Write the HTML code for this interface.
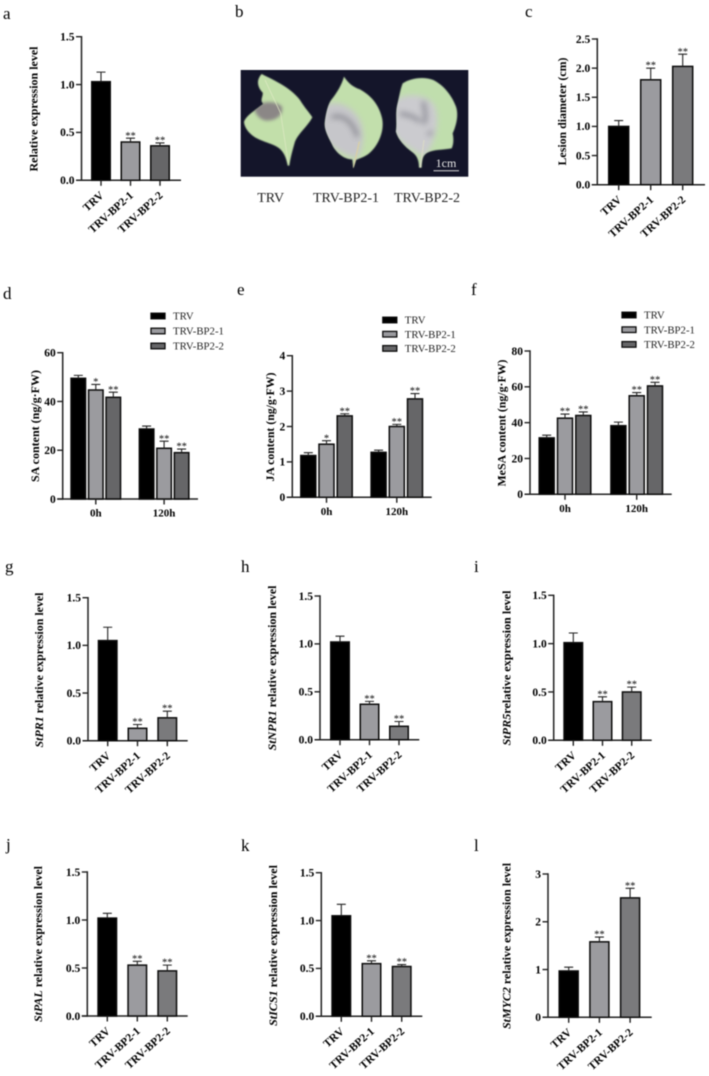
<!DOCTYPE html>
<html lang="en">
<head>
<meta charset="utf-8">
<title>Panels a–l</title>
<style>
html,body{margin:0;padding:0;background:#fff;}
svg{display:block;filter:blur(0.4px);}
text{font-family:"Liberation Serif",serif;fill:#000;}
.b{font-weight:bold;}
.letter{font-size:17px;}
.cap{font-size:14px;fill:#222;}
.leg{font-size:10.8px;fill:#222;}
</style>
</head>
<body>
<svg id="fig" xmlns="http://www.w3.org/2000/svg" width="709" height="1076" viewBox="0 0 709 1076">
  <defs>
    <filter id="soft" filterUnits="userSpaceOnUse" x="0" y="150" width="800" height="420"><feGaussianBlur stdDeviation="9"/></filter>
    <filter id="softer" filterUnits="userSpaceOnUse" x="0" y="150" width="800" height="420"><feGaussianBlur stdDeviation="5"/></filter>
    <filter id="edge" filterUnits="userSpaceOnUse" x="0" y="150" width="800" height="420"><feGaussianBlur stdDeviation="1.5"/></filter>
    <clipPath id="clip-leaf1"><path d="M125 222C150 235 210 260 240 300C255 325 270 340 277 352C262 380 235 400 225 425C218 450 212 470 208 497L203 497C198 470 190 455 178 445C150 425 110 425 85 395C75 382 72 372 72 365C80 345 100 335 130 312C118 300 130 290 128 278C112 262 108 240 125 222Z"/></clipPath>
    <clipPath id="clip-leaf2"><path d="M372 230C385 250 400 262 420 268C450 285 475 310 485 350C495 385 480 430 450 458C435 472 415 476 408 480L400 505L397 478C370 478 345 455 335 430C322 405 312 385 315 365C318 340 325 310 335 298C350 280 365 255 372 230Z"/></clipPath>
    <clipPath id="clip-leaf3"><path d="M548 250C570 235 610 228 640 240C670 255 695 285 708 320C718 350 705 385 698 400C702 420 700 435 695 445C670 450 640 448 622 458C610 465 606 475 605 503L597 503C597 480 590 465 575 455C555 440 535 420 528 395C532 370 526 340 532 315C538 290 540 270 548 250Z"/></clipPath>
  </defs>

  <text class="letter" x="3" y="19">a</text>
  <text class="letter" x="235" y="17">b</text>
  <text class="letter" x="525" y="17">c</text>
  <text class="letter" x="3" y="299">d</text>
  <text class="letter" x="237" y="295">e</text>
  <text class="letter" x="471" y="295">f</text>
  <text class="letter" x="5" y="572">g</text>
  <text class="letter" x="241" y="572">h</text>
  <text class="letter" x="474" y="572">i</text>
  <text class="letter" x="6" y="850">j</text>
  <text class="letter" x="241" y="851">k</text>
  <text class="letter" x="474" y="851">l</text>

  <g>
    <rect x="240.7" y="70" width="227.6" height="106.7" fill="#14152a"/>
    <g transform="translate(220,0) scale(0.33333)">
      <g>
        <path filter="url(#edge)" d="M125 222C150 235 210 260 240 300C255 325 270 340 277 352C262 380 235 400 225 425C218 450 212 470 208 497L203 497C198 470 190 455 178 445C150 425 110 425 85 395C75 382 72 372 72 365C80 345 100 335 130 312C118 300 130 290 128 278C112 262 108 240 125 222Z" fill="#c2dfaa"/>
        <g clip-path="url(#clip-leaf1)">
          <path d="M102 325C120 302 165 300 186 320C190 345 170 362 140 362C120 360 105 342 102 325Z" fill="#8b8786" filter="url(#softer)"/>
          <path d="M135 240L182 340L205 490" stroke="#e0eac4" stroke-width="3" fill="none" opacity="0.7"/>
        </g>
      </g>
      <g>
        <path filter="url(#edge)" d="M372 230C385 250 400 262 420 268C450 285 475 310 485 350C495 385 480 430 450 458C435 472 415 476 408 480L400 505L397 478C370 478 345 455 335 430C322 405 312 385 315 365C318 340 325 310 335 298C350 280 365 255 372 230Z" fill="#c2dfac"/>
        <g clip-path="url(#clip-leaf2)">
          <path d="M295 325C340 295 395 310 422 365C435 400 430 450 410 475C375 465 335 445 312 415C295 385 290 350 295 325Z" fill="#c6c6ca" filter="url(#soft)"/>
          <path d="M335 352C370 340 400 368 412 410" stroke="#6d6d76" stroke-width="10" fill="none" opacity="0.75" filter="url(#soft)"/>
          <path d="M418 425L400 505" stroke="#d9cfa6" stroke-width="4" fill="none"/>
        </g>
      </g>
      <g>
        <path filter="url(#edge)" d="M548 250C570 235 610 228 640 240C670 255 695 285 708 320C718 350 705 385 698 400C702 420 700 435 695 445C670 450 640 448 622 458C610 465 606 475 605 503L597 503C597 480 590 465 575 455C555 440 535 420 528 395C532 370 526 340 532 315C538 290 540 270 548 250Z" fill="#c0dead"/>
        <g clip-path="url(#clip-leaf3)">
          <path d="M525 300C560 278 625 280 645 320C660 365 650 415 615 470C585 455 540 430 518 395C515 360 517 330 525 300Z" fill="#cbcbcf" filter="url(#soft)"/>
          <path d="M610 305C615 340 620 345 612 372M540 340C565 345 585 350 600 365M635 395L625 405" stroke="#70707a" stroke-width="10" fill="none" opacity="0.75" filter="url(#soft)"/>
          <path d="M612 420L601 503" stroke="#d8d8c8" stroke-width="4" fill="none"/>
        </g>
      </g>
    </g>
    <text x="446" y="167" text-anchor="middle" font-size="12" style="fill:#e8e8e8">1cm</text>
    <line x1="433.5" x2="459" y1="170.7" y2="170.7" stroke="#d8d8d8" stroke-width="1"/>
  </g>
  <text class="cap" x="270.7" y="202" text-anchor="middle">TRV</text>
  <text class="cap" x="346" y="202" text-anchor="middle">TRV-BP2-1</text>
  <text class="cap" x="427" y="202" text-anchor="middle">TRV-BP2-2</text>
</svg>

<script>
const categories = ['TRV', 'TRV-BP2-1', 'TRV-BP2-2'];
const timepoints = ['0h', '120h'];

const aTicks = [0, 0.5, 1, 1.5];
const aValues = [1.03, 0.40, 0.36];
const aErrorTops = [1.13, 0.44, 0.39];
const aStars = ['', '**', '**'];

const cTicks = [0, 0.5, 1, 1.5, 2, 2.5];
const cValues = [1.0, 1.8, 2.03];
const cErrorTops = [1.1, 2.0, 2.24];
const cStars = ['', '**', '**'];

const dTicks = [0, 20, 40, 60];
const dValues = [[49.5, 44.7, 41.7], [28.7, 20.8, 19.0]];
const dErrorTops = [[50.7, 47.0, 43.8], [29.9, 23.7, 20.5]];
const dStars = [['', '*', '**'], ['', '**', '**']];

const eTicks = [0, 1, 2, 3, 4];
const eValues = [[1.18, 1.5, 2.3], [1.27, 2.0, 2.78]];
const eErrorTops = [[1.26, 1.6, 2.36], [1.33, 2.06, 2.93]];
const eStars = [['', '*', '**'], ['', '**', '**']];

const fTicks = [0, 20, 40, 60, 80];
const fValues = [[31.5, 42.5, 44.0], [38.3, 55.0, 60.5]];
const fErrorTops = [[33.0, 44.8, 46.0], [40.3, 56.8, 62.5]];
const fStars = [['', '**', '**'], ['', '**', '**']];

const exprTicks = [0, 0.5, 1, 1.5];

const gValues = [1.05, 0.13, 0.24];
const gErrorTops = [1.19, 0.17, 0.31];
const hValues = [1.02, 0.37, 0.14];
const hErrorTops = [1.08, 0.40, 0.19];
const iValues = [1.01, 0.40, 0.50];
const iErrorTops = [1.11, 0.45, 0.55];
const jValues = [1.02, 0.53, 0.47];
const jErrorTops = [1.07, 0.57, 0.53];
const kValues = [1.05, 0.55, 0.52];
const kErrorTops = [1.17, 0.58, 0.54];
const lTicks = [0, 1, 2, 3];
const lValues = [0.97, 1.58, 2.5];
const lErrorTops = [1.05, 1.68, 2.7];
const sigStars = ['', '**', '**'];

const NS = 'http://www.w3.org/2000/svg';
const fig = document.getElementById('fig');

function make(tag, attrs, parent) {
  const el = document.createElementNS(NS, tag);
  for (const k in attrs) el.setAttribute(k, attrs[k]);
  parent.appendChild(el);
  return el;
}

function fmt(t, decimals) { return decimals ? t.toFixed(decimals) : String(t); }

function drawAxes(g, o, ticks, y) {
  const yAxis = make('line', {x1: o.ax, x2: o.ax, y1: y(ticks[ticks.length - 1]) - 0.7, y2: o.y0 + 0.7, stroke: '#222', 'stroke-width': 1.5}, g);
  
  
  const xAxis = make('line', {x1: o.ax - 5.5, x2: o.xEnd, y1: o.y0, y2: o.y0, stroke: '#222', 'stroke-width': 1.5}, g);
  
  
  ticks.forEach(function (t) {
    const tick = make('line', {x1: o.ax - 5.5, x2: o.ax, y1: y(t), y2: y(t), stroke: '#222', 'stroke-width': 1.4}, g);
    
    
    const label = make('text', {x: o.ax - 7, y: y(t) + 3.8, 'text-anchor': 'end', 'font-size': 11.5, class: 'b'}, g);
    label.textContent = fmt(t, o.decimals);
    
    
  });
  const title = make('text', {
    transform: 'translate(' + o.titleX + ',' + o.titleY + ') rotate(-90)',
    'text-anchor': 'middle', 'font-size': 12, class: 'b',
    textLength: o.titleLen, lengthAdjust: 'spacingAndGlyphs'
  }, g);
  
  
  if (o.titleItalic) {
    const it = make('tspan', {'font-style': 'italic'}, title);
    it.textContent = o.titleItalic;
  }
  const rest = make('tspan', {}, title);
  rest.textContent = o.titleText;
}

function drawBar(g, cx, w, value, errTop, star, fill, y, y0) {
  const bar = make('rect', {x: cx - w / 2, y: y(value), width: w, height: y0 - y(value), fill: fill, stroke: '#0c0c0c', 'stroke-width': 1.5}, g);
  
  
  const err = make('path', {d: 'M' + cx + ' ' + y(value) + 'V' + y(errTop) + 'M' + (cx - 4.5) + ' ' + y(errTop) + 'H' + (cx + 4.5), stroke: '#222', 'stroke-width': 1.1, fill: 'none'}, g);
  
  
  if (star) {
    const s = make('text', {x: cx, y: y(errTop) + 0.6, 'text-anchor': 'middle', 'font-size': 10.5}, g);
    s.textContent = star;
    
    
  }
}

function simplePanel(o, ticks, values, errTops, stars) {
  const g = make('g', {}, fig);
  
  
  const max = ticks[ticks.length - 1];
  const y = function (v) { return o.y0 - v / max * (o.y0 - o.top); };
  const x = function (i) { return o.x0 + i * o.step; };
  const fills = ['#000000', '#9b9b9f', o.third];
  drawAxes(g, o, ticks, y);
  values.forEach(function (v, i) {
    drawBar(g, x(i), o.w, v, errTops[i], stars[i], fills[i], y, o.y0);
    const tick = make('line', {x1: x(i), x2: x(i), y1: o.y0, y2: o.y0 + 5.5, stroke: '#222', 'stroke-width': 1.4}, g);
    
    
    const lab = make('text', {
      transform: 'translate(' + (x(i) + 3.5) + ',' + (o.y0 + 16) + ') rotate(-42)',
      'text-anchor': 'end', 'font-size': 11.3, class: 'b'
    }, g);
    lab.textContent = categories[i];
    
    
  });
}

function groupedPanel(o, ticks, values, errTops, stars) {
  const g = make('g', {}, fig);
  
  
  const max = ticks[ticks.length - 1];
  const y = function (v) { return o.y0 - v / max * (o.y0 - o.top); };
  const x = function (gi, si) { return o.x0 + gi * o.groupStep + si * o.step; };
  const fills = ['#000000', '#9b9b9f', '#666668'];
  drawAxes(g, o, ticks, y);
  values.forEach(function (series, gi) {
    series.forEach(function (v, si) {
      drawBar(g, x(gi, si), o.w, v, errTops[gi][si], stars[gi][si], fills[si], y, o.y0);
    });
    const cx = x(gi, 1);
    const tick = make('line', {x1: cx, x2: cx, y1: o.y0, y2: o.y0 + 5.5, stroke: '#222', 'stroke-width': 1.4}, g);
    
    
    const lab = make('text', {x: cx, y: o.y0 + 17.5, 'text-anchor': 'middle', 'font-size': 11, class: 'b'}, g);
    lab.textContent = timepoints[gi];
    
    
  });
  categories.forEach(function (c, i) {
    const cy = o.legY + i * o.legStep;
    const sw = make('rect', {x: o.legX, y: cy - 2.8, width: 14, height: 5.6, fill: fills[i], stroke: '#0c0c0c', 'stroke-width': 1.3}, g);
    
    
    const t = make('text', {x: o.legX + 22, y: cy + 3.6, class: 'leg'}, g);
    t.textContent = c;
    
    
  });
}

simplePanel({id: 'a', ax: 81.5, y0: 180.3, top: 36.7, xEnd: 181, x0: 101, step: 29.5, w: 18.5, third: '#666668', decimals: 1,
  titleX: 37.5, titleY: 109, titleLen: 125, titleText: 'Relative expression level'}, aTicks, aValues, aErrorTops, aStars);
simplePanel({id: 'c', ax: 597.3, y0: 184.7, top: 39, xEnd: 705, x0: 618.7, step: 32, w: 20, third: '#7a7a7c', decimals: 1,
  titleX: 566, titleY: 111.5, titleLen: 108, titleText: 'Lesion diameter (cm)'}, cTicks, cValues, cErrorTops, cStars);

groupedPanel({id: 'd', ax: 62.7, y0: 499, top: 352.7, xEnd: 198, x0: 78.3, step: 17.5, groupStep: 68.3, w: 14.5, decimals: 0,
  titleX: 39, titleY: 426, titleLen: 112, titleText: 'SA content (ng/g·FW)', legX: 151, legY: 316, legStep: 15}, dTicks, dValues, dErrorTops, dStars);
groupedPanel({id: 'e', ax: 292.3, y0: 497.3, top: 355.7, xEnd: 431.7, x0: 308.3, step: 18.2, groupStep: 70.3, w: 15, decimals: 0,
  titleX: 274, titleY: 427, titleLen: 109, titleText: 'JA content (ng/g·FW)', legX: 382.8, legY: 320, legStep: 14.2}, eTicks, eValues, eErrorTops, eStars);
groupedPanel({id: 'f', ax: 530, y0: 494.3, top: 351, xEnd: 671.7, x0: 546.7, step: 18.3, groupStep: 71.7, w: 15, decimals: 0,
  titleX: 505.5, titleY: 423, titleLen: 127, titleText: 'MeSA content (ng/g·FW)', legX: 622, legY: 315, legStep: 14.7}, fTicks, fValues, fErrorTops, fStars);

simplePanel({id: 'g', ax: 88, y0: 740.7, top: 597.7, xEnd: 187.7, x0: 107.7, step: 29.8, w: 18.5, third: '#7a7a7c', decimals: 1,
  titleX: 43, titleY: 670, titleLen: 155, titleItalic: 'StPR1', titleText: ' relative expression level'}, exprTicks, gValues, gErrorTops, sigStars);
simplePanel({id: 'h', ax: 320, y0: 739.7, top: 596, xEnd: 419.3, x0: 340, step: 29.5, w: 18.5, third: '#7a7a7c', decimals: 1,
  titleX: 276, titleY: 668, titleLen: 165, titleItalic: 'StNPR1', titleText: ' relative expression level'}, exprTicks, hValues, hErrorTops, sigStars);
simplePanel({id: 'i', ax: 553.7, y0: 740.3, top: 595.3, xEnd: 651.7, x0: 573.3, step: 29.2, w: 18.5, third: '#7a7a7c', decimals: 1,
  titleX: 510.5, titleY: 668, titleLen: 155, titleItalic: 'StPR5', titleText: 'relative expression level'}, exprTicks, iValues, iErrorTops, sigStars);
simplePanel({id: 'j', ax: 87.3, y0: 1016, top: 872, xEnd: 187.7, x0: 107.3, step: 30, w: 18.5, third: '#7a7a7c', decimals: 1,
  titleX: 42, titleY: 944, titleLen: 156, titleItalic: 'StPAL', titleText: ' relative expression level'}, exprTicks, jValues, jErrorTops, sigStars);
simplePanel({id: 'k', ax: 321.3, y0: 1016.3, top: 872.7, xEnd: 422.3, x0: 341.3, step: 30.2, w: 18.5, third: '#7a7a7c', decimals: 1,
  titleX: 277, titleY: 945.5, titleLen: 161, titleItalic: 'StICS1', titleText: ' relative expression level'}, exprTicks, kValues, kErrorTops, sigStars);
simplePanel({id: 'l', ax: 548, y0: 1017.3, top: 874, xEnd: 651.7, x0: 568.7, step: 30.7, w: 19, third: '#7a7a7c', decimals: 0,
  titleX: 510.5, titleY: 946, titleLen: 166, titleItalic: 'StMYC2', titleText: ' relative expression level'}, lTicks, lValues, lErrorTops, sigStars);
</script>
</body>
</html>
